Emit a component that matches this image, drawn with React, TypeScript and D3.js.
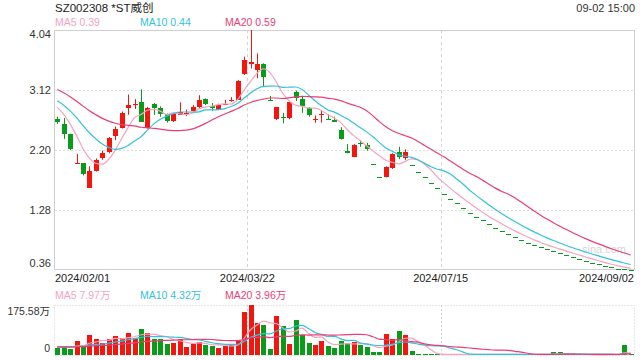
import React from "react";
import * as d3 from "d3";

// ---------- data ----------
const title = "SZ002308 *ST威创";
const timeLabel = "09-02 15:00";

// estimated closes of the 19 sessions before the first visible one (to seed the moving averages)
const priorCloses = [3.45, 3.40, 3.38, 3.35, 3.30, 3.28, 3.25, 3.22, 3.20, 3.17, 3.12, 3.08, 3.05, 3.02, 3.00, 2.98, 2.95, 2.90, 2.81];

const opens = [
  2.68, 2.60, 2.44, 1.99, 2.00, 1.62, 1.88, 2.08, 2.17, 2.42,
  2.54, 2.84, 2.90, 2.93, 2.53, 2.90, 2.85, 2.75, 2.65, 2.74,
  2.76, 2.80, 2.86, 2.98, 2.88, 2.82, 2.90, 2.95, 2.97, 3.37,
  3.52, 3.43, 3.52, 2.97, 2.67, 2.70, 2.69, 3.09, 2.98, 2.84,
  2.67, 2.73, 2.68, 2.66, 2.50, 2.19, 2.10, 2.31, 2.28, 1.98,
  1.78, 1.79, 1.92, 2.17, 2.07, 1.97, 1.87, 1.78, 1.69, 1.61,
  1.53, 1.45, 1.38, 1.31, 1.24, 1.18, 1.12, 1.06, 1.01, 0.96,
  0.91, 0.86, 0.82, 0.78, 0.74, 0.71, 0.68, 0.65, 0.62, 0.59,
  0.56, 0.53, 0.50, 0.47, 0.45, 0.42, 0.40, 0.38, 0.37, 0.36,
];
const highs = [
  2.71, 2.69, 2.45, 2.14, 2.00, 1.95, 2.07, 2.19, 2.40, 2.56,
  2.79, 3.05, 2.98, 3.13, 2.86, 2.92, 2.87, 2.76, 2.77, 2.93,
  2.82, 2.89, 3.04, 2.99, 2.92, 2.91, 2.97, 3.01, 3.27, 3.63,
  4.04, 3.68, 3.53, 3.03, 2.86, 2.77, 2.94, 3.11, 3.02, 2.86,
  2.73, 2.80, 2.75, 2.71, 2.55, 2.29, 2.29, 2.35, 2.31, 1.98,
  1.78, 1.95, 2.15, 2.25, 2.21, 1.97, 1.87, 1.78, 1.69, 1.61,
  1.53, 1.45, 1.38, 1.31, 1.24, 1.18, 1.12, 1.06, 1.01, 0.96,
  0.91, 0.86, 0.82, 0.78, 0.74, 0.71, 0.68, 0.65, 0.62, 0.59,
  0.56, 0.53, 0.50, 0.47, 0.45, 0.42, 0.40, 0.38, 0.37, 0.36,
];
const lows = [
  2.60, 2.37, 2.20, 1.99, 1.81, 1.62, 1.87, 2.05, 2.15, 2.35,
  2.53, 2.74, 2.83, 2.63, 2.53, 2.74, 2.71, 2.62, 2.63, 2.74,
  2.72, 2.79, 2.84, 2.89, 2.80, 2.81, 2.90, 2.94, 2.97, 3.35,
  3.45, 3.30, 3.18, 2.95, 2.66, 2.61, 2.67, 2.95, 2.77, 2.71,
  2.62, 2.62, 2.67, 2.63, 2.36, 2.15, 2.09, 2.25, 2.19, 1.98,
  1.78, 1.78, 1.91, 2.06, 2.05, 1.97, 1.87, 1.78, 1.69, 1.61,
  1.53, 1.45, 1.38, 1.31, 1.24, 1.18, 1.12, 1.06, 1.01, 0.96,
  0.91, 0.86, 0.82, 0.78, 0.74, 0.71, 0.68, 0.65, 0.62, 0.59,
  0.56, 0.53, 0.50, 0.47, 0.45, 0.42, 0.40, 0.38, 0.37, 0.36,
];
const closes = [
  2.63, 2.45, 2.21, 2.00, 1.83, 1.88, 2.05, 2.15, 2.39, 2.52,
  2.77, 2.89, 2.91, 2.63, 2.85, 2.84, 2.75, 2.65, 2.75, 2.79,
  2.77, 2.86, 2.97, 2.91, 2.85, 2.89, 2.91, 2.96, 3.26, 3.58,
  3.55, 3.52, 3.32, 2.96, 2.86, 2.69, 2.93, 2.99, 2.88, 2.73,
  2.68, 2.75, 2.67, 2.63, 2.37, 2.15, 2.28, 2.30, 2.22, 1.98,
  1.78, 1.94, 2.14, 2.10, 2.17, 1.97, 1.87, 1.78, 1.69, 1.61,
  1.53, 1.45, 1.38, 1.31, 1.24, 1.18, 1.12, 1.06, 1.01, 0.96,
  0.91, 0.86, 0.82, 0.78, 0.74, 0.71, 0.68, 0.65, 0.62, 0.59,
  0.56, 0.53, 0.50, 0.47, 0.45, 0.42, 0.40, 0.38, 0.37, 0.36,
];

// volumes in 万 (10k shares)
const priorVolumes = [30, 26, 35, 28, 24, 31, 27, 33, 29, 25, 30, 28, 26, 32, 27, 29, 31, 25, 28];
const volumes = [
  26, 32, 21, 49, 34, 70, 56, 43, 56, 67,
  61, 78, 58, 91, 78, 56, 56, 39, 43, 56,
  28, 39, 47, 35, 32, 25, 32, 34, 50, 152,
  175.58, 113, 105, 21, 137, 102, 39, 123, 70, 43,
  35, 49, 32, 25, 49, 43, 46, 35, 28, 10,
  10, 74, 56, 84, 70, 14, 3, 2.5, 2.2, 2,
  2.4, 1.8, 2, 2.1, 1.9, 2.2, 2, 1.8, 2.1, 2,
  2.2, 2.0, 1.8, 2.1, 1.9, 2.0, 2.0, 10, 10, 2.0,
  0.7, 0.65, 0.7, 0.6, 0.7, 1.2, 1.2, 1.2, 35, 1.25,
];

const xTickLabels = ["2024/02/01", "2024/03/22", "2024/07/15", "2024/09/02"];
const xTickIndex = [0, 30, 60, 89];
const priceTicks = [4.04, 3.12, 2.2, 1.28, 0.36];
const maPeriods = [5, 10, 20];
const maLegend = ["MA5 0.39", "MA10 0.44", "MA20 0.59"];
const volLegend = ["MA5 7.97万", "MA10 4.32万", "MA20 3.96万"];
const volMax = 175.58;
const volMaxLabel = "175.58万";

// ---------- style ----------
const RED = "#f3160e";
const GREEN = "#0a9b1a";
const MA_COLORS = ["#f7a3bf", "#33c1de", "#ec3d74"];
const FONT = "Arial, 'Liberation Sans', 'Noto Sans CJK SC', sans-serif";

function movingAvg(prior: number[], vals: number[], n: number) {
  const all = [...prior, ...vals];
  const off = prior.length;
  return vals.map((_, i) => d3.mean(all.slice(off + i - n + 1, off + i + 1)) as number);
}

export default function App() {
  const N = closes.length;
  const L = 54, R = 634, T = 30, B = 270, VT = 305, VB = 355;
  const x = d3.scaleBand<number>().domain(d3.range(N)).range([L, R]);
  const bw = x.bandwidth();
  const y = d3.scaleLinear().domain([priceTicks[4], priceTicks[0]]).range([B, T]);
  const yv = d3.scaleLinear().domain([0, volMax]).range([VB, VT]);
  const cx = (i: number) => Math.round((x(i) as number) + bw / 2);

  const isUp = (i: number) =>
    closes[i] > opens[i] || (closes[i] === opens[i] && closes[i] >= (i > 0 ? closes[i - 1] : priorCloses[priorCloses.length - 1]));

  const priceMA = maPeriods.map((n) => movingAvg(priorCloses, closes, n));
  const volMA = maPeriods.map((n) => movingAvg(priorVolumes, volumes, n));

  const linePrice = d3
    .line<number>()
    .x((_, i) => (x(i) as number) + bw / 2)
    .y((d) => y(d))
    .curve(d3.curveMonotoneX);
  const lineVol = d3
    .line<number>()
    .x((_, i) => (x(i) as number) + bw / 2)
    .y((d) => yv(d))
    .curve(d3.curveMonotoneX);

  const vGrid = [30, 60].map((i) => Math.round(x(i) as number) + 0.5);

  return (
    <svg
      width={640}
      height={360}
      style={{ position: "fixed", left: 0, top: 0, background: "#fff" }}
      fontFamily={FONT}
    >
      {/* header */}
      <text x={55} y={12} fontSize={11.5} fill="#1a1a1a">{title}</text>
      <text x={635} y={12} fontSize={11} fill="#333" textAnchor="end">{timeLabel}</text>
      {maLegend.map((t, k) => (
        <text key={t} x={55 + k * 85} y={26} fontSize={10.5} fill={MA_COLORS[k]}>{t}</text>
      ))}

      {/* price grid */}
      {priceTicks.slice(1, 4).map((v) => (
        <line key={v} x1={L + 1} x2={R} y1={Math.round(y(v)) + 0.5} y2={Math.round(y(v)) + 0.5}
          stroke="#dcdcdc" strokeDasharray="2,2" />
      ))}
      {vGrid.map((gx) => (
        <line key={gx} x1={gx} x2={gx} y1={T} y2={B} stroke="#d4d4d4" strokeDasharray="3,3" />
      ))}
      <rect x={L + 0.5} y={T + 0.5} width={R - L} height={B - T - 1} fill="none" stroke="#cfcfcf" />

      {/* price axis labels */}
      {priceTicks.map((v, k) => {
        const yy = k === 0 ? y(v) + 8 : k === 4 ? y(v) - 3 : y(v) + 4;
        return (
          <text key={v} x={51} y={yy} fontSize={11} fill="#333" textAnchor="end">{v.toFixed(2)}</text>
        );
      })}

      {/* x labels */}
      {xTickLabels.map((t, k) => {
        const idx = xTickIndex[k];
        const anchor = k === 0 ? "start" : k === xTickLabels.length - 1 ? "end" : "middle";
        const tx = k === 0 ? L + 1 : k === xTickLabels.length - 1 ? R : (x(idx) as number);
        return (
          <text key={t} x={tx} y={282} fontSize={11} fill="#222" textAnchor={anchor}>{t}</text>
        );
      })}

      {/* watermark */}
      <text x={582} y={253} fontSize={11} fill="#d6d6d6">sina.com</text>

      {/* candles */}
      {closes.map((c, i) => {
        const col = isUp(i) ? RED : GREEN;
        const o = opens[i];
        const top = Math.round(y(Math.max(o, c)));
        const bot = Math.round(y(Math.min(o, c)));
        const h = Math.max(1, bot - top);
        const xc = cx(i);
        return (
          <g key={i}>
            <line x1={xc + 0.5} x2={xc + 0.5} y1={y(highs[i])} y2={y(lows[i])} stroke={col} strokeWidth={1} />
            <rect x={xc - 2} y={top} width={5} height={h} fill={col} />
          </g>
        );
      })}

      {/* price MAs */}
      {priceMA.map((arr, k) => (
        <path key={k} d={linePrice(arr) as string} fill="none" stroke={MA_COLORS[k]} strokeWidth={1.2} />
      ))}

      {/* volume panel */}
      {volLegend.map((t, k) => (
        <text key={t} x={55 + k * 85} y={299} fontSize={10.5} fill={MA_COLORS[k]}>{t}</text>
      ))}
      <rect x={L + 0.5} y={VT + 0.5} width={R - L} height={VB - VT} fill="none" stroke="#cfcfcf" strokeDasharray="1,2" />
      {vGrid.map((gx) => (
        <line key={"v" + gx} x1={gx} x2={gx} y1={VT} y2={VB} stroke="#d4d4d4" strokeDasharray="2,2" />
      ))}
      <text x={50} y={315} fontSize={10.5} fill="#333" textAnchor="end">{volMaxLabel}</text>
      <text x={50} y={352} fontSize={10.5} fill="#333" textAnchor="end">0</text>
      {volumes.map((v, i) => {
        const col = isUp(i) ? RED : GREEN;
        const top = Math.round(yv(v));
        const h = Math.max(1, VB - top);
        return <rect key={"vb" + i} x={cx(i) - 2} y={VB - h} width={5} height={h} fill={col} />;
      })}
      {volMA.map((arr, k) => (
        <path key={"vm" + k} d={lineVol(arr) as string} fill="none" stroke={MA_COLORS[k]} strokeWidth={1.2} />
      ))}
    </svg>
  );
}
